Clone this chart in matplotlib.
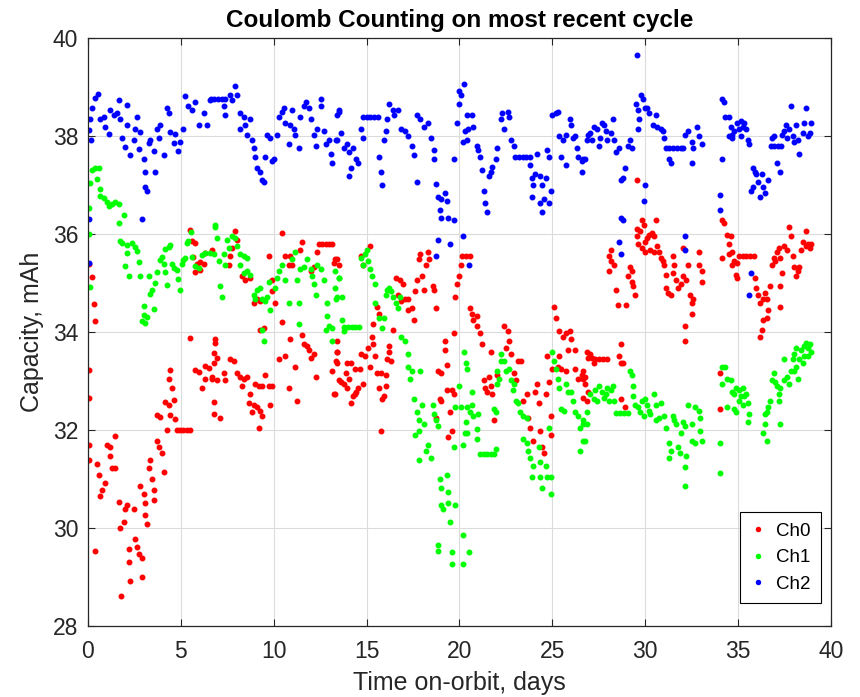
import numpy as np
import matplotlib
matplotlib.use("Agg")
import matplotlib.pyplot as plt

plt.rcParams['font.family'] = ['Liberation Sans', 'DejaVu Sans']

# (days on orbit, capacity mAh)
ch0_pts = [
    (0.07, 35.38), (0.22, 35.12), (0.30, 34.58), (0.39, 34.23), (0.07, 33.23), (0.04, 32.65),
    (0.04, 31.69), (0.04, 31.38), (0.48, 31.31), (0.57, 31.08), (0.66, 30.65), (0.75, 30.77),
    (0.93, 30.92), (1.02, 31.69), (1.20, 31.65), (1.20, 31.46), (1.29, 31.23), (1.47, 31.23),
    (1.47, 31.88), (1.65, 30.54), (1.74, 30.00), (1.92, 30.12), (2.01, 30.38), (2.10, 30.46),
    (0.39, 29.54), (1.79, 28.62), (2.19, 29.58), (2.19, 29.31), (2.28, 28.92), (2.46, 30.38),
    (2.54, 29.77), (2.63, 29.62), (2.72, 29.46), (2.90, 29.38), (2.90, 29.00), (2.81, 30.85),
    (2.99, 30.69), (3.08, 30.50), (3.08, 30.27), (3.17, 30.08), (3.26, 31.23), (3.35, 31.38),
    (3.44, 31.00), (3.53, 30.77), (3.53, 30.58), (3.71, 31.77), (3.80, 31.65), (3.98, 31.54),
    (4.07, 31.15), (3.71, 32.31), (3.89, 32.27), (4.16, 32.58), (4.34, 32.50), (4.43, 32.31),
    (4.52, 32.85), (4.61, 32.62), (4.34, 33.04), (4.43, 33.23), (4.25, 32.00), (4.78, 32.00),
    (4.96, 32.00), (5.14, 32.00), (5.32, 32.00), (5.50, 32.00), (4.70, 32.23), (6.76, 32.58),
    (5.50, 33.88), (5.77, 33.23), (5.95, 33.19), (6.13, 32.85), (6.31, 33.04), (6.31, 33.31),
    (6.49, 33.27), (6.67, 33.08), (6.76, 33.58), (6.85, 33.85), (5.50, 36.08), (5.59, 35.85),
    (5.77, 35.81), (5.68, 35.54), (5.86, 35.38), (6.04, 35.42), (6.22, 35.38), (6.31, 35.62),
    (5.77, 35.23), (6.04, 35.27),
    (7.93, 36.06), (8.02, 35.87), (6.67, 35.68), (7.66, 35.56), (7.75, 35.71), (7.57, 35.37),
    (8.29, 35.14), (8.47, 35.06), (8.74, 35.10), (9.73, 35.56), (10.45, 36.02), (10.63, 35.56),
    (10.81, 35.37), (10.90, 35.56), (10.99, 35.37), (11.53, 35.83), (11.44, 35.68), (11.98, 35.25),
    (12.16, 35.33), (12.34, 35.64), (12.43, 35.80), (12.61, 35.80), (12.79, 35.80), (12.97, 35.80),
    (13.15, 35.80), (13.24, 35.41), (13.42, 35.48), (9.91, 35.06), (9.10, 34.67), (8.92, 34.59),
    (9.28, 34.63), (9.91, 34.83), (10.09, 34.59), (9.28, 34.05), (9.46, 34.09), (10.45, 34.21),
    (10.90, 33.86), (11.53, 33.94), (11.62, 33.75), (11.80, 33.71), (11.89, 33.63), (12.16, 33.55),
    (11.98, 33.47), (6.85, 33.78), (6.76, 33.36), (6.94, 33.47), (6.67, 33.05), (6.94, 33.01),
    (7.30, 33.17), (7.39, 33.01), (7.66, 33.45), (7.84, 33.40), (8.02, 33.17), (8.20, 33.09),
    (8.29, 32.90), (8.38, 33.05), (8.56, 33.09), (8.74, 32.74), (9.01, 32.93), (9.19, 32.90),
    (9.37, 32.90), (9.55, 33.13), (9.73, 32.90), (9.91, 32.90), (9.82, 32.51), (8.65, 32.55),
    (8.92, 32.51), (9.10, 32.47), (8.83, 32.36), (9.28, 32.39), (9.37, 32.28), (9.19, 32.05),
    (6.76, 32.32), (7.12, 32.24), (10.27, 33.44), (10.63, 33.51), (10.81, 32.86), (11.17, 33.28),
    (11.26, 32.59), (12.25, 33.09), (13.15, 33.20), (13.33, 33.40), (13.24, 32.74), (13.51, 33.01),
    (13.42, 33.59),
    (13.31, 35.48), (13.50, 35.37), (15.19, 35.75), (14.81, 35.37), (14.72, 35.56), (16.59, 35.10),
    (16.78, 35.06), (16.97, 34.98), (17.06, 34.67), (17.25, 34.67), (17.25, 34.44), (17.43, 34.48),
    (17.53, 34.25), (16.69, 34.75), (16.87, 34.63), (17.72, 35.06), (17.81, 35.48), (17.90, 35.60),
    (18.00, 35.14), (18.18, 35.37), (18.28, 35.64), (18.37, 35.48), (18.09, 34.86), (18.56, 34.94),
    (18.65, 34.86), (17.62, 34.83), (18.75, 34.48), (19.78, 34.71), (19.87, 34.98), (19.96, 35.14),
    (20.06, 35.37), (20.15, 35.56), (20.35, 35.56), (20.55, 35.56), (19.68, 33.98), (19.21, 33.82),
    (19.21, 33.63), (18.84, 33.20), (19.03, 33.17), (19.31, 33.32), (18.93, 32.63), (19.03, 32.59),
    (19.31, 32.82), (19.59, 32.82), (19.49, 32.36), (19.68, 32.74), (18.75, 32.24), (19.59, 31.97),
    (19.40, 31.85), (13.41, 33.82), (13.41, 33.59), (13.41, 33.36), (13.31, 32.74), (13.60, 32.97),
    (13.78, 32.93), (13.88, 33.17), (13.97, 33.36), (14.16, 33.36), (14.07, 33.05), (13.97, 32.86),
    (14.25, 32.70), (14.16, 32.55), (14.35, 32.74), (14.44, 32.78), (14.53, 32.86), (14.35, 33.24),
    (14.63, 33.24), (14.81, 32.93), (14.72, 33.55), (14.91, 33.51), (15.09, 33.67), (15.19, 33.28),
    (15.28, 33.90), (15.37, 33.75), (15.47, 33.51), (15.56, 33.17), (15.66, 32.86), (15.56, 34.52),
    (15.66, 34.36), (15.37, 34.17), (15.75, 33.17), (16.03, 33.13), (16.03, 32.90), (15.94, 32.70),
    (15.84, 32.63), (16.12, 33.44), (16.22, 33.59), (16.31, 33.40), (16.22, 33.71), (16.40, 34.05),
    (15.75, 31.97),
    (20.56, 34.48), (20.65, 34.36), (20.74, 34.25), (20.93, 34.32), (20.93, 34.13), (21.11, 33.98),
    (21.20, 33.75), (21.67, 33.59), (21.30, 33.01), (21.39, 32.86), (21.48, 32.78), (21.57, 33.09),
    (21.67, 32.90), (21.76, 32.74), (21.85, 32.20), (22.04, 33.13), (22.41, 34.13), (22.59, 34.02),
    (22.69, 33.82), (22.50, 33.67), (22.78, 33.55), (22.96, 33.17), (23.06, 33.01), (23.15, 33.40),
    (23.33, 33.40), (23.43, 32.59), (23.61, 32.74), (23.70, 32.24), (23.80, 32.05), (23.98, 31.78),
    (24.07, 32.78), (24.17, 32.93), (24.26, 32.55), (24.35, 31.97), (24.44, 31.66), (24.54, 31.54),
    (24.63, 32.74), (24.72, 33.51), (24.81, 32.97), (24.91, 32.28), (24.91, 31.89), (25.00, 33.24),
    (25.09, 34.52), (25.19, 34.29), (25.37, 34.02), (25.56, 33.90), (25.74, 33.98), (25.93, 34.02),
    (26.02, 33.86), (25.83, 33.63), (26.20, 33.63), (25.37, 33.51), (25.28, 33.28), (25.46, 33.24),
    (25.74, 33.20), (26.20, 33.24), (26.57, 33.13), (26.76, 33.09), (26.67, 32.66), (26.85, 32.59),
    (26.94, 33.47), (26.39, 33.05),
    (26.85, 33.59), (27.04, 33.55), (27.13, 33.47), (27.30, 33.45), (27.50, 33.45), (27.70, 33.45),
    (27.95, 33.45), (27.22, 33.36), (26.67, 33.20), (26.67, 33.05), (26.76, 32.93), (26.94, 32.78),
    (28.70, 33.75), (28.61, 33.51), (28.70, 33.36), (28.80, 33.36), (28.70, 32.63), (28.89, 32.47),
    (29.53, 37.10), (28.15, 35.68), (28.06, 35.56), (28.15, 35.44), (28.06, 35.25), (28.33, 35.37),
    (28.43, 34.86), (28.52, 34.56), (28.98, 34.56), (29.17, 35.33), (29.26, 35.25), (29.07, 35.14),
    (29.26, 35.02), (29.35, 34.94), (29.44, 34.75), (29.81, 36.29), (29.91, 36.18), (29.54, 36.10),
    (29.72, 36.06), (29.54, 35.95), (29.63, 35.79), (29.81, 35.71), (30.00, 35.83), (30.09, 35.91),
    (30.19, 35.98), (30.37, 36.02), (30.46, 35.95), (30.56, 36.29), (30.00, 35.64), (30.28, 35.68),
    (30.46, 35.64), (30.65, 35.75), (30.74, 35.64), (30.83, 35.52), (30.93, 35.44), (31.02, 35.37),
    (31.11, 35.17), (31.48, 35.56), (31.57, 35.37), (31.11, 34.90), (31.20, 34.79), (31.39, 34.75),
    (31.48, 35.21), (31.67, 35.06), (31.76, 34.90), (31.94, 34.98), (32.04, 35.14), (32.22, 35.06),
    (32.31, 35.37), (32.41, 34.75), (32.50, 34.59), (32.59, 34.67), (32.50, 34.36), (32.13, 34.13),
    (32.13, 33.82), (32.04, 35.71), (32.87, 35.64), (32.87, 35.37), (33.06, 35.25), (33.06, 35.02),
    (34.13, 36.29), (34.22, 36.22), (34.41, 35.98), (34.59, 35.95), (34.50, 35.79), (34.50, 35.60),
    (34.13, 35.52), (34.69, 35.64), (34.78, 35.44), (34.96, 35.41), (34.69, 35.37), (35.05, 35.55),
    (35.25, 35.55), (35.45, 35.55), (35.65, 35.55), (35.85, 35.55), (34.87, 35.17), (34.96, 35.10),
    (35.89, 35.10), (35.98, 34.90), (36.07, 34.75), (36.17, 34.59), (36.35, 34.67), (36.44, 34.79),
    (36.54, 34.67), (36.72, 34.94), (36.63, 34.44), (36.54, 34.29), (36.35, 34.25), (36.26, 34.05),
    (36.17, 33.90), (36.81, 35.37), (36.91, 35.52), (37.00, 35.44), (37.09, 35.64), (37.19, 35.71),
    (37.28, 35.52), (37.37, 35.21), (37.28, 34.94), (37.28, 34.52), (37.46, 35.75), (37.65, 35.68),
    (37.74, 36.14), (37.83, 35.95), (37.93, 35.56), (38.02, 35.33), (38.11, 35.14), (38.20, 35.25),
    (38.30, 35.33), (38.39, 35.68), (38.48, 35.83), (38.67, 36.06), (38.76, 35.79), (38.85, 35.71),
    (38.94, 35.79), (38.67, 35.75), (34.04, 33.17), (34.04, 32.43),
]

ch1_pts = [
    (0.07, 36.00), (0.07, 36.54), (0.13, 37.04), (0.22, 37.31), (0.39, 37.35), (0.57, 37.35),
    (0.48, 37.12), (0.13, 34.92), (0.66, 36.92), (0.66, 36.77), (0.84, 36.73), (1.02, 36.65),
    (1.11, 36.58), (1.29, 36.62), (1.47, 36.65), (1.65, 36.62), (1.92, 36.38), (1.65, 36.23),
    (1.74, 35.85), (1.83, 35.81), (2.10, 35.77), (2.37, 35.81), (2.54, 35.73), (2.63, 35.65),
    (2.10, 35.62), (2.01, 35.35), (2.19, 35.15), (2.72, 35.42), (2.81, 35.15), (2.99, 34.54),
    (2.99, 34.35), (3.08, 34.19), (2.90, 34.23), (3.17, 34.31), (3.26, 35.15), (3.35, 34.77),
    (3.44, 34.85), (3.53, 34.46), (3.62, 35.00), (3.71, 35.23), (3.89, 35.46), (3.98, 35.54),
    (4.07, 35.38), (4.16, 35.69), (4.34, 35.73), (4.43, 35.77), (4.16, 35.23), (4.25, 34.96),
    (4.52, 35.38), (4.61, 35.31), (4.78, 35.27), (4.87, 35.08), (4.96, 34.85), (5.05, 35.38),
    (5.14, 35.46), (5.23, 35.50), (5.32, 35.81), (5.41, 35.85), (5.56, 36.04), (5.59, 35.54),
    (5.77, 35.35), (5.95, 35.31), (6.13, 35.58), (6.31, 35.62), (6.58, 35.62), (6.85, 36.15),
    (6.85, 36.18), (6.94, 35.91), (6.76, 35.60), (7.03, 35.44), (7.30, 35.60), (7.39, 35.37),
    (7.48, 35.87), (7.57, 35.71), (7.75, 35.95), (7.93, 35.91), (8.02, 35.75), (8.20, 35.60),
    (8.38, 35.56), (8.56, 35.52), (8.20, 35.37), (8.38, 35.21), (8.56, 35.25), (8.74, 35.17),
    (7.12, 34.94), (7.21, 34.71), (9.10, 34.86), (8.92, 34.75), (9.01, 34.67), (9.28, 34.90),
    (9.37, 34.67), (9.55, 34.63), (9.64, 34.71), (9.82, 34.44), (9.73, 35.02), (10.09, 34.90),
    (10.18, 35.10), (10.27, 35.25), (10.45, 35.37), (10.63, 35.06), (10.81, 34.59), (10.99, 35.48),
    (11.17, 35.64), (11.26, 35.06), (11.35, 34.59), (11.44, 35.29), (11.62, 35.33), (11.80, 35.48),
    (11.98, 35.29), (12.07, 35.14), (12.16, 34.98), (12.25, 34.75), (12.34, 35.37), (12.52, 35.29),
    (12.70, 35.06), (12.88, 34.59), (12.88, 34.32), (12.97, 34.13), (13.15, 34.09), (12.79, 34.05),
    (13.33, 34.67), (13.51, 35.10), (9.37, 34.05), (9.46, 33.82), (11.35, 34.17), (13.15, 33.82),
    (13.31, 35.25), (13.50, 35.10), (13.31, 34.90), (13.41, 34.71), (13.69, 34.71), (13.69, 34.25),
    (13.80, 34.10), (14.00, 34.10), (14.20, 34.10), (14.40, 34.10), (14.60, 34.10), (13.78, 34.02),
    (14.72, 35.52), (14.81, 35.37), (14.91, 35.60), (15.00, 35.68), (15.09, 35.44), (15.19, 35.29),
    (15.28, 35.14), (15.47, 34.98), (15.47, 34.59), (15.66, 34.29), (15.84, 34.09), (15.94, 34.29),
    (16.03, 34.75), (16.12, 34.86), (16.22, 34.90), (16.31, 34.83), (16.40, 34.71), (16.59, 34.59),
    (16.69, 34.48), (16.78, 34.71), (16.87, 33.90), (17.06, 33.82), (17.25, 33.55), (17.25, 33.28),
    (17.34, 33.05), (17.43, 33.20), (17.90, 33.20), (17.53, 32.63), (17.99, 32.51), (17.72, 32.36),
    (17.81, 32.20), (18.09, 32.12), (18.56, 32.51), (18.65, 32.32), (18.75, 32.20), (18.84, 32.08),
    (17.81, 31.97), (17.62, 31.89), (17.81, 31.39), (18.18, 31.58), (18.28, 31.70), (18.46, 31.43),
    (18.93, 31.00), (19.03, 30.81), (19.31, 31.08), (19.40, 30.73), (19.03, 30.46), (19.12, 30.39),
    (19.40, 30.50), (19.78, 30.46), (19.49, 30.12), (18.84, 29.65), (18.84, 29.54), (19.59, 29.50),
    (19.59, 29.27), (20.24, 33.59), (20.34, 33.36), (20.43, 33.24), (19.96, 32.90), (19.78, 32.47),
    (19.68, 31.66), (20.43, 32.47), (20.43, 31.93), (20.52, 29.50),
    (20.09, 32.47), (20.28, 31.93), (20.19, 31.70), (20.56, 32.36), (20.65, 32.51), (20.74, 32.28),
    (20.93, 32.01), (21.02, 32.32), (20.65, 32.78), (20.37, 32.16), (20.93, 31.81), (21.10, 31.51),
    (21.30, 31.51), (21.50, 31.51), (21.70, 31.51), (21.85, 31.51), (21.94, 31.62), (21.85, 32.43),
    (21.94, 32.36), (22.04, 33.20), (22.13, 33.05), (22.04, 32.93), (22.22, 33.40), (22.22, 33.55),
    (22.41, 33.40), (22.50, 33.20), (22.69, 33.24), (22.78, 33.01), (22.87, 32.82), (22.96, 32.93),
    (23.06, 32.59), (23.15, 32.55), (23.24, 32.36), (23.43, 32.28), (23.61, 32.24), (23.43, 31.81),
    (23.61, 31.74), (23.70, 31.58), (23.80, 31.43), (23.98, 31.27), (23.89, 31.04), (24.26, 31.66),
    (24.35, 31.35), (24.35, 31.04), (24.44, 30.81), (24.63, 31.27), (24.72, 31.04), (24.81, 32.05),
    (24.91, 31.04), (24.91, 30.70), (25.00, 33.59), (25.09, 33.40), (25.19, 33.24), (25.28, 33.05),
    (25.37, 32.86), (25.46, 32.43), (25.65, 32.39), (25.74, 32.93), (25.83, 32.78), (26.02, 32.78),
    (26.11, 32.59), (26.20, 32.36), (26.39, 32.28), (26.48, 32.05), (26.48, 31.58), (26.67, 32.20),
    (26.85, 32.12), (26.67, 31.78), (20.19, 29.85), (20.19, 29.27),
    (26.67, 32.12), (26.76, 31.78), (26.85, 32.36), (27.04, 32.74), (27.22, 32.63), (27.31, 32.82),
    (27.41, 32.59), (27.50, 32.90), (27.69, 32.78), (27.78, 32.66), (27.87, 32.74), (27.96, 32.86),
    (28.15, 32.82), (28.24, 32.90), (28.06, 32.59), (28.33, 32.59), (28.45, 32.34), (28.65, 32.34),
    (28.85, 32.34), (29.05, 32.34), (29.17, 33.20), (29.26, 33.13), (29.35, 32.90), (29.35, 32.70),
    (29.44, 32.51), (29.63, 32.47), (29.72, 32.36), (29.81, 32.59), (29.91, 32.28), (30.00, 32.63),
    (30.09, 32.51), (30.19, 32.39), (30.28, 32.32), (30.46, 32.74), (30.56, 32.51), (30.56, 32.20),
    (30.74, 32.24), (30.83, 32.55), (31.02, 32.28), (31.11, 32.05), (31.30, 31.74), (31.39, 31.58),
    (31.30, 31.43), (31.48, 32.28), (31.57, 32.20), (31.67, 32.12), (31.76, 31.66), (31.85, 31.54),
    (31.94, 31.93), (32.04, 32.16), (32.13, 32.08), (32.22, 31.47), (32.13, 31.24), (32.13, 30.85),
    (32.31, 32.51), (32.50, 32.12), (32.50, 31.78), (32.69, 32.47), (32.87, 32.39), (32.96, 32.24),
    (32.96, 31.97), (33.06, 31.78), (32.69, 31.74),
    (34.13, 33.28), (34.31, 33.28), (34.13, 32.93), (34.41, 33.05), (34.59, 33.01), (34.69, 32.78),
    (34.78, 32.74), (34.87, 32.86), (35.06, 32.82), (35.15, 32.70), (35.24, 32.86), (35.33, 32.70),
    (35.43, 32.74), (35.06, 32.59), (35.24, 32.51), (34.78, 32.43), (34.41, 32.47), (34.87, 32.36),
    (35.52, 32.55), (35.61, 32.32), (35.52, 32.16), (34.04, 31.74), (34.04, 31.12), (36.35, 31.93),
    (36.54, 31.78), (36.44, 32.12), (36.44, 32.32), (36.54, 32.36), (36.63, 32.47), (36.72, 32.59),
    (36.81, 33.01), (36.91, 33.17), (37.00, 32.97), (37.09, 32.90), (37.19, 32.74), (37.19, 32.59),
    (37.28, 32.86), (37.28, 32.12), (37.46, 33.01), (37.65, 33.09), (37.74, 32.93), (37.83, 33.20),
    (38.02, 33.20), (38.11, 33.28), (38.20, 33.05), (37.46, 33.44), (37.93, 33.44), (38.02, 33.55),
    (38.11, 33.67), (38.30, 33.44), (38.39, 33.63), (38.48, 33.36), (38.57, 33.71), (38.67, 33.78),
    (38.76, 33.67), (38.85, 33.75), (38.94, 33.59), (38.76, 33.51), (38.57, 33.51),
]

ch2_pts = [
    (0.04, 38.12), (0.13, 38.35), (0.22, 38.58), (0.36, 38.77), (0.54, 38.86), (0.18, 37.92),
    (0.07, 36.31), (0.04, 35.40), (0.66, 38.35), (0.84, 38.38), (0.93, 38.19), (1.11, 38.04),
    (1.20, 38.54), (1.38, 38.42), (1.56, 38.46), (1.65, 38.73), (1.74, 38.35), (1.83, 37.96),
    (2.01, 37.77), (2.10, 38.63), (2.10, 38.23), (2.28, 37.62), (2.46, 37.92), (2.54, 38.15),
    (2.63, 38.38), (2.72, 37.73), (2.81, 38.08), (2.99, 37.54), (3.08, 37.27), (3.08, 36.96),
    (3.17, 36.88), (2.90, 36.31), (3.26, 37.85), (3.35, 37.92), (3.53, 37.69), (3.62, 37.27),
    (3.71, 38.15), (3.80, 37.96), (3.89, 38.23), (4.07, 37.62), (4.25, 38.58), (4.34, 38.46),
    (4.43, 38.08), (4.61, 37.85), (4.70, 38.04), (4.87, 37.69), (4.96, 37.88), (5.14, 38.15),
    (5.23, 38.81), (5.41, 38.62), (5.59, 38.54), (5.77, 38.69), (5.95, 38.23), (6.22, 38.46),
    (6.40, 38.23), (6.58, 38.73),
    (6.60, 38.76), (6.80, 38.76), (7.00, 38.76), (7.20, 38.76), (7.40, 38.76), (7.30, 38.61),
    (7.39, 38.42), (7.66, 38.84), (7.75, 38.73), (7.93, 39.03), (8.02, 38.84), (8.20, 38.46),
    (8.20, 38.15), (8.38, 38.38), (8.47, 38.22), (8.56, 38.03), (8.74, 38.34), (8.83, 37.92),
    (8.92, 37.76), (9.01, 37.57), (9.10, 37.34), (9.28, 37.26), (9.37, 37.10), (9.46, 37.07),
    (9.55, 37.57), (9.64, 38.03), (9.82, 37.95), (9.91, 37.49), (10.00, 37.53), (10.18, 38.03),
    (10.27, 38.38), (10.45, 38.49), (10.54, 38.57), (10.63, 38.26), (10.81, 37.84), (10.90, 38.22),
    (10.99, 38.53), (11.08, 38.15), (11.17, 38.03), (11.35, 37.76), (11.44, 38.38), (11.62, 38.61),
    (11.71, 38.69), (11.89, 38.57), (11.98, 38.34), (12.16, 38.03), (12.25, 37.80), (12.34, 38.15),
    (12.52, 38.76), (12.52, 38.61), (12.70, 38.11), (12.79, 37.84), (12.97, 37.92), (13.06, 37.64),
    (13.15, 37.45), (13.33, 37.92), (13.51, 38.49),
    (13.41, 38.42), (13.50, 38.53), (13.41, 37.92), (13.60, 38.07), (13.78, 37.76), (13.97, 37.84),
    (14.07, 37.68), (14.16, 37.34), (14.07, 37.18), (14.25, 37.76), (14.44, 37.53), (14.53, 37.45),
    (14.72, 38.15), (14.81, 37.95), (14.80, 38.38), (15.00, 38.38), (15.20, 38.38), (15.40, 38.38),
    (15.60, 38.38), (15.66, 37.57), (15.75, 37.26), (15.84, 36.99), (15.94, 37.92), (16.03, 38.11),
    (16.12, 38.34), (16.22, 38.65), (16.40, 38.53), (16.50, 38.42), (16.69, 38.53), (16.87, 38.15),
    (17.06, 38.11), (17.25, 37.99), (17.53, 37.61), (17.43, 37.80), (17.72, 38.42), (17.90, 38.34),
    (18.09, 38.19), (18.28, 38.26), (18.46, 37.95), (18.65, 37.72), (18.65, 37.53), (17.72, 37.07),
    (18.75, 37.03), (18.84, 36.76), (19.03, 36.72), (19.21, 36.83), (19.31, 36.68), (18.93, 36.49),
    (19.03, 36.33), (19.40, 36.33), (19.68, 36.29), (19.68, 37.53), (19.87, 38.26), (19.96, 38.65),
    (20.06, 38.84), (20.24, 39.07), (20.43, 38.42), (20.43, 37.92), (18.84, 35.87), (19.49, 35.79),
    (18.75, 35.56), (20.49, 35.37),
    (20.00, 38.92), (20.19, 37.88), (20.28, 38.11), (20.46, 38.15), (20.65, 38.42), (20.74, 38.19),
    (20.93, 37.80), (21.02, 37.72), (21.11, 37.57), (21.20, 37.30), (21.30, 36.87), (21.39, 36.64),
    (21.48, 36.45), (21.57, 37.18), (21.76, 37.37), (21.94, 37.53), (22.04, 37.76), (21.67, 37.26),
    (22.22, 38.34), (22.31, 38.46), (22.41, 38.15), (22.59, 38.49), (22.69, 38.38), (22.78, 37.92),
    (22.96, 37.80), (23.00, 37.57), (23.20, 37.57), (23.40, 37.57), (23.60, 37.57), (23.80, 37.57),
    (23.80, 37.41), (23.89, 37.14), (23.98, 36.99), (24.07, 37.22), (24.17, 37.64), (24.35, 37.18),
    (24.44, 36.99), (24.63, 37.14), (23.89, 36.76), (24.35, 36.64), (24.44, 36.45), (24.54, 36.72),
    (24.81, 36.64), (24.72, 37.72), (24.81, 37.57), (24.91, 36.87), (25.00, 38.42), (25.19, 38.46),
    (25.28, 38.49), (25.37, 37.99), (25.46, 37.57), (25.56, 37.92), (25.74, 37.41), (25.74, 38.03),
    (25.93, 38.34), (26.02, 38.22), (26.11, 37.95), (26.30, 37.76), (26.20, 37.99), (26.39, 37.57),
    (26.57, 37.49), (26.57, 37.26), (26.76, 37.53), (26.94, 38.03), (20.19, 35.95),
    (26.67, 37.53), (26.85, 37.92), (27.04, 38.07), (27.13, 37.92), (27.22, 38.19), (27.41, 38.15),
    (27.50, 37.80), (27.59, 37.95), (27.69, 38.26), (27.78, 38.22), (27.87, 38.11), (27.96, 37.92),
    (28.15, 38.07), (28.24, 38.34), (28.33, 37.92), (28.43, 37.68), (28.61, 37.76), (28.70, 37.10),
    (28.80, 37.14), (28.89, 37.34), (29.07, 37.80), (29.17, 37.92), (29.26, 37.76), (28.70, 36.33),
    (28.80, 36.29), (28.61, 35.83), (28.70, 35.60), (29.53, 39.65), (29.50, 38.65), (29.60, 38.53),
    (29.69, 38.34), (29.60, 38.15), (29.78, 38.84), (29.87, 38.76), (29.97, 38.57), (30.12, 38.57),
    (30.22, 38.46), (30.40, 38.22), (30.56, 38.42), (30.65, 38.19), (30.83, 38.15), (30.93, 38.11),
    (31.02, 37.95), (31.11, 37.76), (31.30, 37.76), (31.50, 37.76), (31.70, 37.76), (31.90, 37.76),
    (32.05, 37.76), (31.30, 37.53), (31.39, 37.45), (32.13, 38.03), (32.31, 38.11), (32.50, 37.88),
    (32.59, 37.76), (32.50, 37.45), (32.78, 38.19), (32.87, 37.99), (33.06, 37.84), (30.00, 36.99),
    (29.91, 36.68), (32.13, 35.95), (32.13, 35.68),
    (34.13, 38.76), (34.22, 38.69), (34.31, 38.38), (34.50, 38.38), (34.59, 38.19), (34.69, 38.03),
    (34.78, 38.11), (34.96, 38.26), (35.06, 38.15), (35.15, 38.30), (35.24, 38.19), (35.33, 38.26),
    (35.43, 38.15), (35.15, 37.99), (34.50, 37.99), (34.69, 37.95), (35.52, 37.92), (35.61, 37.84),
    (34.13, 37.53), (35.80, 37.34), (35.89, 37.26), (35.98, 37.22), (36.07, 37.07), (36.26, 37.22),
    (36.35, 36.95), (36.44, 36.83), (36.17, 36.76), (35.80, 36.95), (35.70, 36.87), (36.63, 37.10),
    (36.75, 37.80), (36.95, 37.80), (37.15, 37.80), (37.30, 37.80), (36.81, 37.95), (36.91, 37.99),
    (37.09, 37.45), (37.28, 37.26), (37.37, 38.03), (37.46, 38.11), (37.56, 38.22), (37.65, 37.95),
    (37.74, 38.15), (37.83, 38.61), (37.93, 37.99), (38.02, 37.88), (38.20, 37.92), (38.30, 37.64),
    (38.11, 38.22), (38.48, 38.07), (38.57, 38.26), (38.67, 38.57), (38.76, 37.99), (38.85, 38.07),
    (38.94, 38.26), (34.04, 36.80), (34.04, 36.49), (35.70, 35.21), (35.61, 34.75),
]

series = [("Ch0", ch0_pts, (1, 0, 0)), ("Ch1", ch1_pts, (0, 1, 0)), ("Ch2", ch2_pts, (0, 0, 1))]
ink = (0.15, 0.15, 0.15)

fig = plt.figure(figsize=(8.6, 6.97), dpi=100)
ax = fig.add_axes([0.1023, 0.1019, 0.864, 0.8436])

for name, pts, col in series:
    d, c = zip(*pts)
    ax.plot(d, c, '.', color=col, markersize=6.5, label=name, linestyle='none')

ax.set_xlim(0, 40)
ax.set_ylim(28, 40)
ax.set_xticks(np.arange(0, 41, 5))
ax.set_yticks(np.arange(28, 41, 2))
ax.grid(True, color=(0.86, 0.86, 0.86), linewidth=0.8)
ax.set_axisbelow(True)
ax.tick_params(direction='in', labelsize=16.5, length=5, top=True, right=True,
               labeltop=False, labelright=False, colors=ink)
ax.tick_params(axis='x', pad=10)
ax.tick_params(axis='y', pad=7)
for s in ax.spines.values():
    s.set_color(ink)
    s.set_linewidth(0.9)

ax.set_xlabel("Time on-orbit, days", fontsize=18, color=ink, labelpad=6)
ax.set_ylabel("Capacity, mAh", fontsize=18, color=ink, labelpad=6)
ax.set_title("Coulomb Counting on most recent cycle", fontsize=17.5, fontweight='bold', pad=8)

leg = ax.legend(loc='lower right', bbox_to_anchor=(0.9865, 0.039), borderaxespad=0,
                fontsize=13.5, markerscale=0.9, handlelength=0.9, fancybox=False,
                framealpha=1, edgecolor='black', handletextpad=0.5, labelspacing=0.5,
                borderpad=0.55)
leg.get_frame().set_linewidth(0.8)

fig.savefig("out.png", dpi=100)
